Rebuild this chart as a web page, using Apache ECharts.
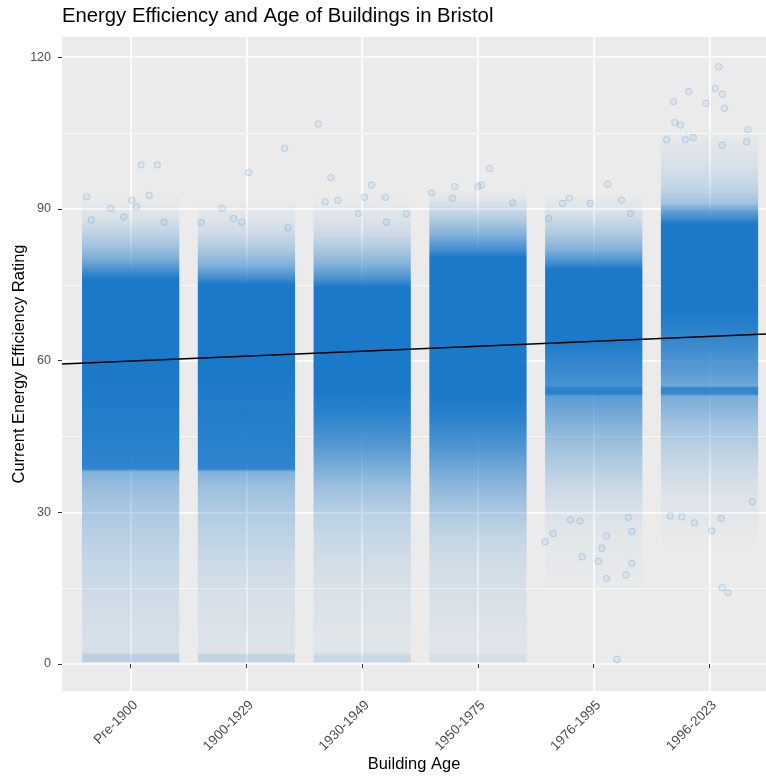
<!DOCTYPE html>
<html>
<head>
<meta charset="utf-8">
<script src="https://cdn.jsdelivr.net/npm/echarts@6/dist/echarts.min.js"></script>
<style>html,body{margin:0;padding:0;background:#fff}#chart{width:766px;height:776px}</style>
</head>
<body>
<div id="chart"></div>
<script>
// ---- data ----
const categories = ['Pre-1900', '1900-1929', '1930-1949', '1950-1975', '1976-1995', '1996-2023'];
const yTicks = [0, 30, 60, 90, 120];
const yMinorTicks = [15, 45, 75, 105];

// point density (visual coverage 0..1) at rating levels, per building age
const densityPre1900 = [[0.2,0],[0.5,0.24],[1.7,0.24],[2.3,0.1],[5,0.1],[10,0.12],[15,0.14],[20,0.18],[25,0.24],[30,0.3],[35,0.4],[38,0.5],[38.6,0.9],[45,0.94],[52,0.98],[60,1],[76,1],[77.5,0.85],[80,0.55],[83,0.33],[86,0.18],[88,0.09],[90,0.04],[92,0.015],[93,0]];
const density1900_1929 = [[0.2,0],[0.5,0.2],[1.7,0.2],[2.3,0.07],[5,0.07],[10,0.09],[15,0.11],[20,0.15],[25,0.21],[30,0.28],[35,0.38],[38,0.5],[38.6,0.9],[50,0.96],[58,1],[75,1],[76.5,0.8],[79,0.5],[82,0.3],[85,0.15],[88,0.06],[91,0.02],[92,0]];
const density1930_1949 = [[0.2,0],[0.5,0.17],[1.7,0.17],[2.3,0.05],[5,0.05],[10,0.07],[15,0.09],[20,0.12],[25,0.17],[30,0.24],[35,0.38],[38,0.5],[42,0.68],[46,0.82],[50,0.93],[54,1],[74.5,1],[76,0.8],[79,0.5],[82,0.3],[85,0.15],[88,0.07],[91,0.02],[93,0]];
const density1950_1975 = [[0.2,0],[0.5,0.1],[1.7,0.1],[2.3,0.05],[5,0.06],[10,0.08],[15,0.1],[20,0.13],[25,0.19],[30,0.3],[35,0.45],[38,0.56],[42,0.72],[46,0.85],[50,0.95],[53,1],[80.5,1],[82,0.8],[85,0.5],[88,0.28],[90,0.14],[92,0.05],[94,0]];
const density1976_1995 = [[14,0],[17,0.02],[25,0.04],[30,0.08],[35,0.16],[38,0.24],[42,0.34],[46,0.45],[50,0.6],[53,0.7],[53.4,0.92],[54.6,0.92],[55,0.78],[58,0.85],[62,0.94],[64,1],[78,1],[79.5,0.8],[82,0.5],[85,0.3],[88,0.14],[90,0.06],[92,0.02],[93,0]];
const density1996_2023 = [[22,0],[26,0.02],[32,0.05],[37,0.12],[42,0.22],[47,0.34],[50,0.45],[53,0.55],[53.4,0.88],[54.6,0.88],[55,0.6],[58,0.7],[62,0.82],[66,0.92],[70,1],[87,1],[88,0.85],[90,0.6],[91,0.36],[94,0.2],[97,0.13],[100,0.07],[103,0.035],[105,0.015],[106,0]];
const densityProfiles = [densityPre1900, density1900_1929, density1930_1949, density1950_1975, density1976_1995, density1996_2023];

// individually visible points: [jittered offset from category, rating]
const pointsPre1900 = [[-0.38,92.4],[0.09,98.7],[0.23,98.7],[0.01,91.7],[0.16,92.7],[-0.17,90.1],[0.05,90.4],[-0.34,87.8],[-0.06,88.4],[0.29,87.4]];
const points1900_1929 = [[0.33,102.0],[0.02,97.2],[-0.21,90.1],[-0.39,87.3],[-0.11,88.1],[-0.04,87.4],[0.36,86.3]];
const points1930_1949 = [[-0.38,106.8],[-0.27,96.2],[0.08,94.7],[0.2,92.3],[0.02,92.3],[-0.32,91.4],[-0.21,91.7],[0.38,89.0],[0.21,87.4],[-0.03,89.1]];
const points1950_1975 = [[0.10,98.0],[0.03,94.7],[-0.2,94.4],[-0.4,93.2],[-0.22,92.1],[0,94.4],[0.3,91.2]];
const points1976_1995 = [[0.12,94.9],[-0.21,92.1],[-0.27,91.1],[-0.03,91.1],[0.24,91.7],[-0.39,88.1],[0.32,89.1],
  [0.2,0.9],[0.11,16.9],[0.28,17.6],[0.04,20.3],[0.33,19.9],[-0.10,21.2],[0.07,22.9],[-0.42,24.2],[-0.35,25.8],[0.33,26.2],[0.11,25.3],[-0.2,28.5],[-0.12,28.3],[0.30,29.0]];
const points1996_2023 = [[0.08,118.1],[-0.18,113.2],[0.05,113.8],[0.11,112.7],[0.13,109.9],[-0.31,111.2],[-0.03,110.9],[-0.30,107.1],[-0.25,106.6],[0.33,105.7],[-0.37,103.7],[-0.21,103.7],[-0.14,104.1],[0.11,102.6],[0.32,103.3],
  [0.11,15.1],[0.16,14.1],[0.02,26.3],[0.10,28.8],[-0.13,27.9],[0.37,32.1],[-0.34,29.3],[-0.24,29.1]];
const pointSets = [pointsPre1900, points1900_1929, points1930_1949, points1950_1975, points1976_1995, points1996_2023];

// linear trend line endpoints (x in category units, y rating)
const trendX = [0.407, 6.488];
const trendY = [59.35, 65.24];

// ---- chart ----
const BLUE = '27,121,201';
const halfWidth = 0.42;
const font = 'Liberation Sans, Arial, sans-serif';
const chart = echarts.init(document.getElementById('chart'), null, {renderer: 'canvas'});

const scatterData = [];
pointSets.forEach((set, i) => set.forEach(p => scatterData.push([i + 1 + p[0], p[1]])));

const option = {
  animation: false,
  backgroundColor: '#fff',
  title: {
    text: 'Energy Efficiency and Age of Buildings in Bristol',
    left: 62, top: 6, padding: 0,
    textStyle: {fontFamily: font, fontSize: 20.3, fontWeight: 'normal', color: '#000'}
  },
  grid: {left: 62, right: 0, top: 37, bottom: 85, show: true, backgroundColor: '#EBEBEB', borderWidth: 0,
    containLabel: false, outerBoundsMode: 'none'},
  xAxis: {
    type: 'value', min: 0.407, max: 6.488,
    name: 'Building Age', nameLocation: 'middle', nameGap: 65, nameMoveOverlap: false,
    nameTextStyle: {fontFamily: font, fontSize: 16.5, color: '#000'},
    axisLine: {show: false},
    axisTick: {show: true, length: 4, customValues: [1, 2, 3, 4, 5, 6], lineStyle: {color: '#333', width: 1}},
    axisLabel: {customValues: [1, 2, 3, 4, 5, 6], rotate: 45, margin: 7, verticalAlign: 'top', fontFamily: font, fontSize: 13.5, color: '#4D4D4D',
      formatter: v => categories[Math.round(v) - 1]},
    splitLine: {show: true, lineStyle: {color: '#fff', width: 1.6}}
  },
  yAxis: [{
    type: 'value', min: -5.34, max: 124,
    name: 'Current Energy Efficiency Rating', nameLocation: 'middle', nameGap: 34, nameMoveOverlap: false,
    nameTextStyle: {fontFamily: font, fontSize: 16.5, color: '#000'},
    axisLine: {show: false},
    axisTick: {show: true, length: 4, customValues: yTicks, lineStyle: {color: '#333', width: 1}},
    axisLabel: {customValues: yTicks, margin: 11, fontFamily: font, fontSize: 12.5, color: '#4D4D4D'},
    splitLine: {show: true, lineStyle: {color: '#fff', width: 1.6}}
  }, {
    type: 'value', min: -5.34, max: 124, position: 'left',
    axisLine: {show: false},
    axisTick: {show: false, customValues: yMinorTicks},
    axisLabel: {show: false, customValues: yMinorTicks},
    splitLine: {show: true, lineStyle: {color: '#fff', width: 0.8}}
  }],
  series: [{
    type: 'custom',
    clip: true,
    data: categories.map((c, i) => [i + 1, 60]),
    renderItem: function (params, api) {
      const i = params.dataIndex;
      const prof = densityProfiles[i];
      const rMin = prof[0][0], rMax = prof[prof.length - 1][0];
      const p0 = api.coord([i + 1 - halfWidth, rMax]);
      const p1 = api.coord([i + 1 + halfWidth, rMin]);
      const stops = prof.map(d => ({offset: (rMax - d[0]) / (rMax - rMin), color: 'rgba(' + BLUE + ',' + d[1] + ')'})).reverse();
      return {
        type: 'rect',
        shape: {x: p0[0], y: p0[1], width: p1[0] - p0[0], height: p1[1] - p0[1]},
        style: {fill: new echarts.graphic.LinearGradient(0, 0, 0, 1, stops)}
      };
    }
  }, {
    type: 'scatter',
    data: scatterData,
    symbol: 'circle', symbolSize: 6.5,
    itemStyle: {color: 'rgba(' + BLUE + ',0.08)', borderColor: 'rgba(' + BLUE + ',0.28)', borderWidth: 1},
    silent: true
  }, {
    type: 'line',
    data: trendX.map((x, k) => [x, trendY[k]]),
    symbol: 'none',
    lineStyle: {color: '#000', width: 1.5},
    silent: true
  }]
};
chart.setOption(option);
</script>
</body>
</html>
